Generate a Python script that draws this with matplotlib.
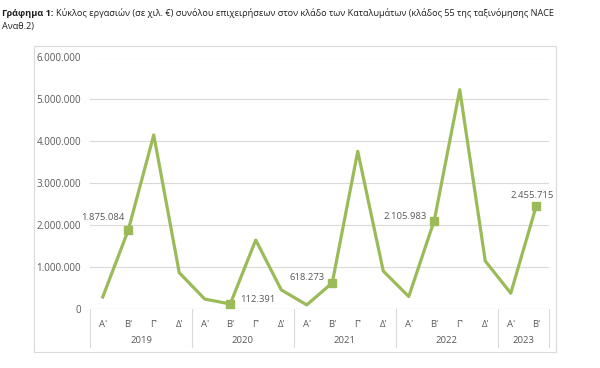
import numpy as np
import matplotlib
matplotlib.use('Agg')
import matplotlib.pyplot as plt
from matplotlib.patches import Rectangle
from matplotlib.lines import Line2D

years = ["2019", "2020", "2021", "2022", "2023"]
quarters = ["Α'", "Β'", "Γ'", "Δ'"]
quarters_per_year = [4, 4, 4, 4, 2]
turnover = [280000, 1875084, 4150000, 860000,
            230000, 112391, 1640000, 450000,
            90000, 618273, 3760000, 900000,
            290000, 2105983, 5230000, 1140000,
            370000, 2455715]
# labelled points (index, text offset in points)
labelled = [1, 5, 9, 13, 17]
label_offsets = [(-18, 9.5), (19.5, 3), (-18, 4), (-21, 3), (-3, 7.5)]

green = "#9BBB59"
grey_text = "#595959"
plt.rcParams['font.family'] = ['Open Sans', 'DejaVu Sans']

fig = plt.figure(figsize=(6, 3.68), dpi=100)

# outer chart frame
fig.patches.append(Rectangle((34 / 600, 1 - 352 / 368), (556 - 34) / 600, (352 - 46) / 368,
                             transform=fig.transFigure, fill=False, edgecolor="#d9d9d9", lw=0.8))

ax = fig.add_axes([90 / 600, 1 - 308.7 / 368, (549 - 90) / 600, (308.7 - 57.5) / 368])
x = np.arange(len(turnover))
ax.plot(x, turnover, color=green, lw=2.3, zorder=3)
ax.plot(x[labelled], [turnover[i] for i in labelled], 's', color=green, ms=6, zorder=4)

for i, off in zip(labelled, label_offsets):
    txt = f"{turnover[i]:,}".replace(",", ".")
    ax.annotate(txt, (x[i], turnover[i]), xytext=off, textcoords="offset points",
                ha="center", va="center", fontsize=6.8, color=grey_text)

ax.set_xlim(-0.5, len(turnover) - 0.5)
ax.set_ylim(0, 6000000)
yt = np.arange(0, 6000001, 1000000)
ax.set_yticks(yt)
ax.set_yticklabels([f"{int(v):,}".replace(",", ".") for v in yt], fontsize=7, color=grey_text)
ax.tick_params(axis='y', length=0, pad=6.5)
ax.grid(axis='y', color="#d9d9d9", lw=0.8)
ax.set_axisbelow(True)
for s in ax.spines.values():
    s.set_visible(False)
ax.axhline(0, color="#d9d9d9", lw=0.8, zorder=1)

# multi-level category axis
q_labels = []
for n in quarters_per_year:
    q_labels += quarters[:n]
ax.set_xticks(x)
ax.set_xticklabels(q_labels, fontsize=6.8, color=grey_text)
ax.tick_params(axis='x', length=0, pad=8)

trans = ax.get_xaxis_transform()
bounds = np.concatenate([[0], np.cumsum(quarters_per_year)]) - 0.5
for b in bounds:
    ax.add_line(Line2D([b, b], [0, -0.153], transform=trans, color="#d9d9d9", lw=0.8, clip_on=False))
for y0, y1, name in zip(bounds[:-1], bounds[1:], years):
    ax.text((y0 + y1) / 2, -0.128, name, transform=trans, ha="center", va="center",
            fontsize=6.8, color=grey_text)

# title
t1 = fig.text(2 / 600, 1 - 13 / 368, "Γράφημα 1:", fontsize=6.6, fontweight="bold", color="#1f1f1f", va="center")
fig.canvas.draw()
bb = t1.get_window_extent()
fig.text(bb.x1 / 600 + 3 / 600, 1 - 13 / 368,
         "Κύκλος εργασιών (σε χιλ. €) συνόλου επιχειρήσεων στον κλάδο των Καταλυμάτων (κλάδος 55 της ταξινόμησης NACE",
         fontsize=6.6, color="#1f1f1f", va="center")
fig.text(2 / 600, 1 - 27 / 368, "Αναθ.2)", fontsize=6.6, color="#1f1f1f", va="center")

fig.savefig("out.png", dpi=100)
